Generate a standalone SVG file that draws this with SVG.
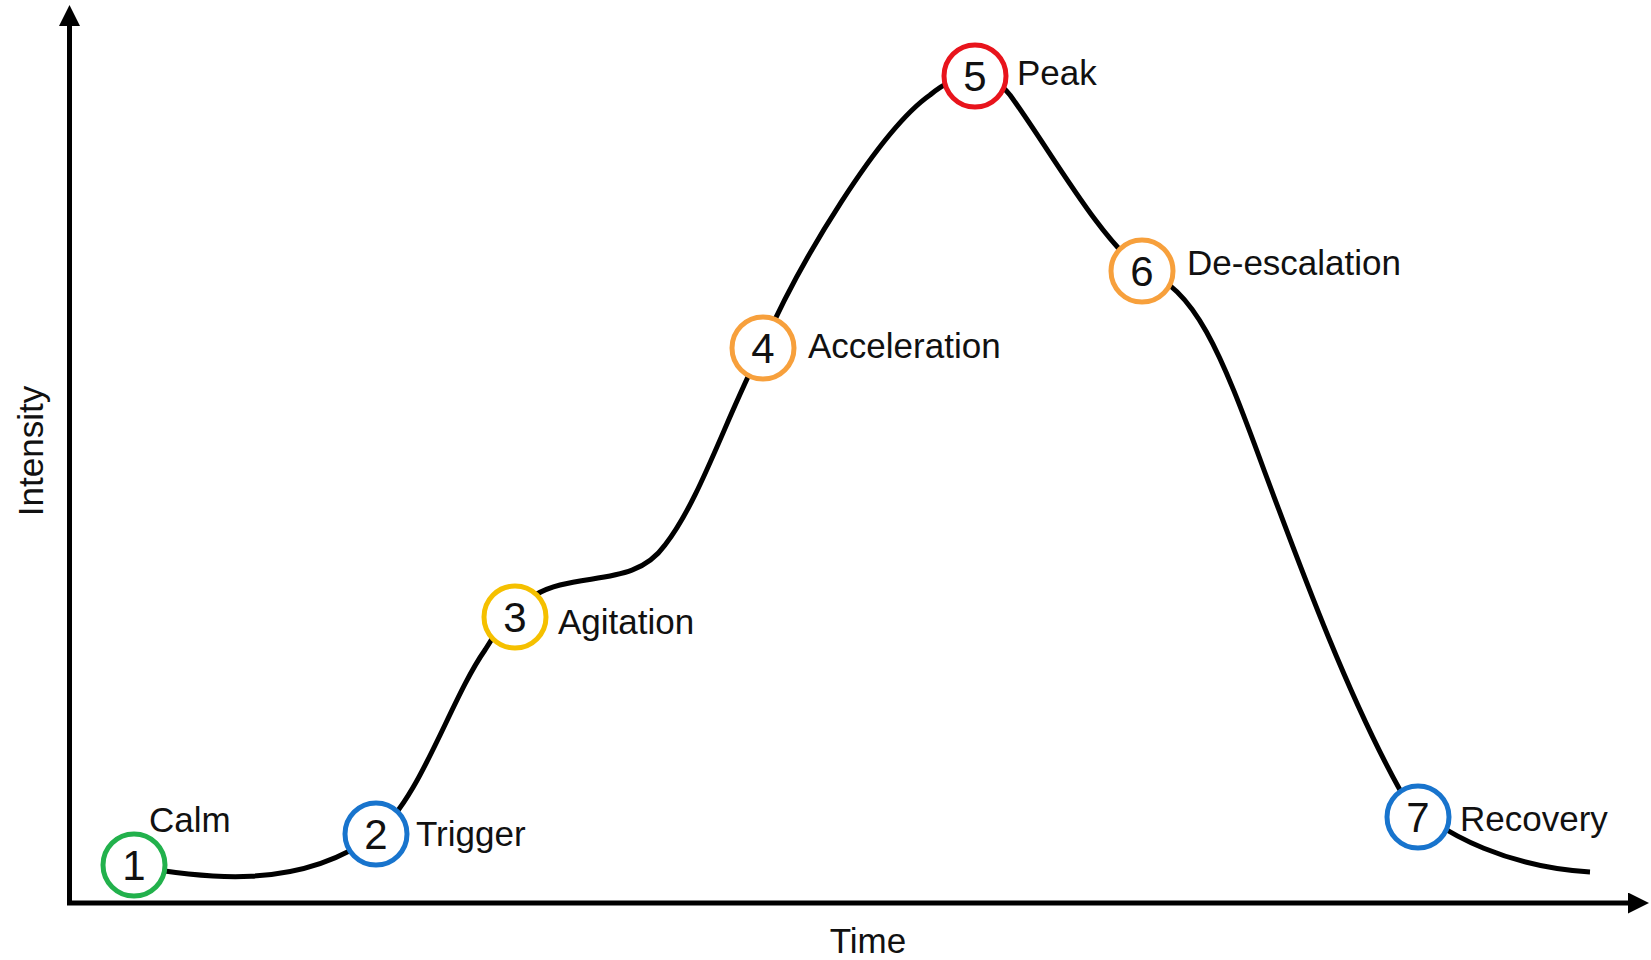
<svg xmlns="http://www.w3.org/2000/svg" width="1651" height="960" viewBox="0 0 1651 960">
<style>
.lbl{font-family:"Liberation Sans",Arial,sans-serif;font-size:35px;fill:#111}
.num{font-family:"Liberation Sans",Arial,sans-serif;font-size:42px;fill:#111;text-anchor:middle}
.ring{fill:#fff;stroke-width:5}
</style>
<defs>
<marker id="ah" markerWidth="4.2" markerHeight="4.2" refX="2" refY="2.1" orient="auto" markerUnits="strokeWidth">
<path d="M0,0 L4.2,2.1 L0,4.2 Z" fill="#000"/>
</marker>
</defs>
<rect width="1651" height="960" fill="#fff"/>
<g id="axes" stroke="#000" stroke-width="5" fill="none">
<path d="M69.5,905 L69.5,16" marker-end="url(#ah)"/>
<path d="M67,903 L1638,903" marker-end="url(#ah)"/>
</g>
<g id="connectors">
<path d="M134,866 C200,878 300,892 376,834 C420,800 450,700 485,650 C500,625 520,595 560,585 C600,575 640,580 665,545 C700,500 725,420 762,348 C800,260 880,130 930,95 C960,70 990,70 1010,95 C1050,150 1100,240 1142,270 C1195,288 1220,350 1264,470 C1305,580 1350,700 1400,790 C1440,840 1520,868 1590,872" stroke="#000" stroke-width="5" fill="none"/>
</g>
<g id="n1"><circle class="ring" cx="134" cy="865" r="31" stroke="#22b14c"/><text class="num" x="134" y="880">1</text><text class="lbl" x="149" y="832">Calm</text></g>
<g id="n2"><circle class="ring" cx="376" cy="834" r="31" stroke="#1874cd"/><text class="num" x="376" y="849">2</text><text class="lbl" x="416" y="846">Trigger</text></g>
<g id="n3"><circle class="ring" cx="515" cy="617" r="31" stroke="#f5c000"/><text class="num" x="515" y="632">3</text><text class="lbl" x="558" y="634">Agitation</text></g>
<g id="n4"><circle class="ring" cx="763" cy="348" r="31" stroke="#f7a03c"/><text class="num" x="763" y="363">4</text><text class="lbl" x="808" y="358">Acceleration</text></g>
<g id="n5"><circle class="ring" cx="975" cy="76" r="31" stroke="#e8141c"/><text class="num" x="975" y="91">5</text><text class="lbl" x="1017" y="85">Peak</text></g>
<g id="n6"><circle class="ring" cx="1142" cy="271" r="31" stroke="#f7a03c"/><text class="num" x="1142" y="286">6</text><text class="lbl" x="1187" y="275">De-escalation</text></g>
<g id="n7"><circle class="ring" cx="1418" cy="817" r="31" stroke="#1874cd"/><text class="num" x="1418" y="832">7</text><text class="lbl" x="1460" y="831">Recovery</text></g>
<g id="axis-labels">
<text class="lbl" x="868" y="953" text-anchor="middle">Time</text>
<text class="lbl" transform="translate(43,451) rotate(-90)" text-anchor="middle">Intensity</text>
</g>
</svg>
